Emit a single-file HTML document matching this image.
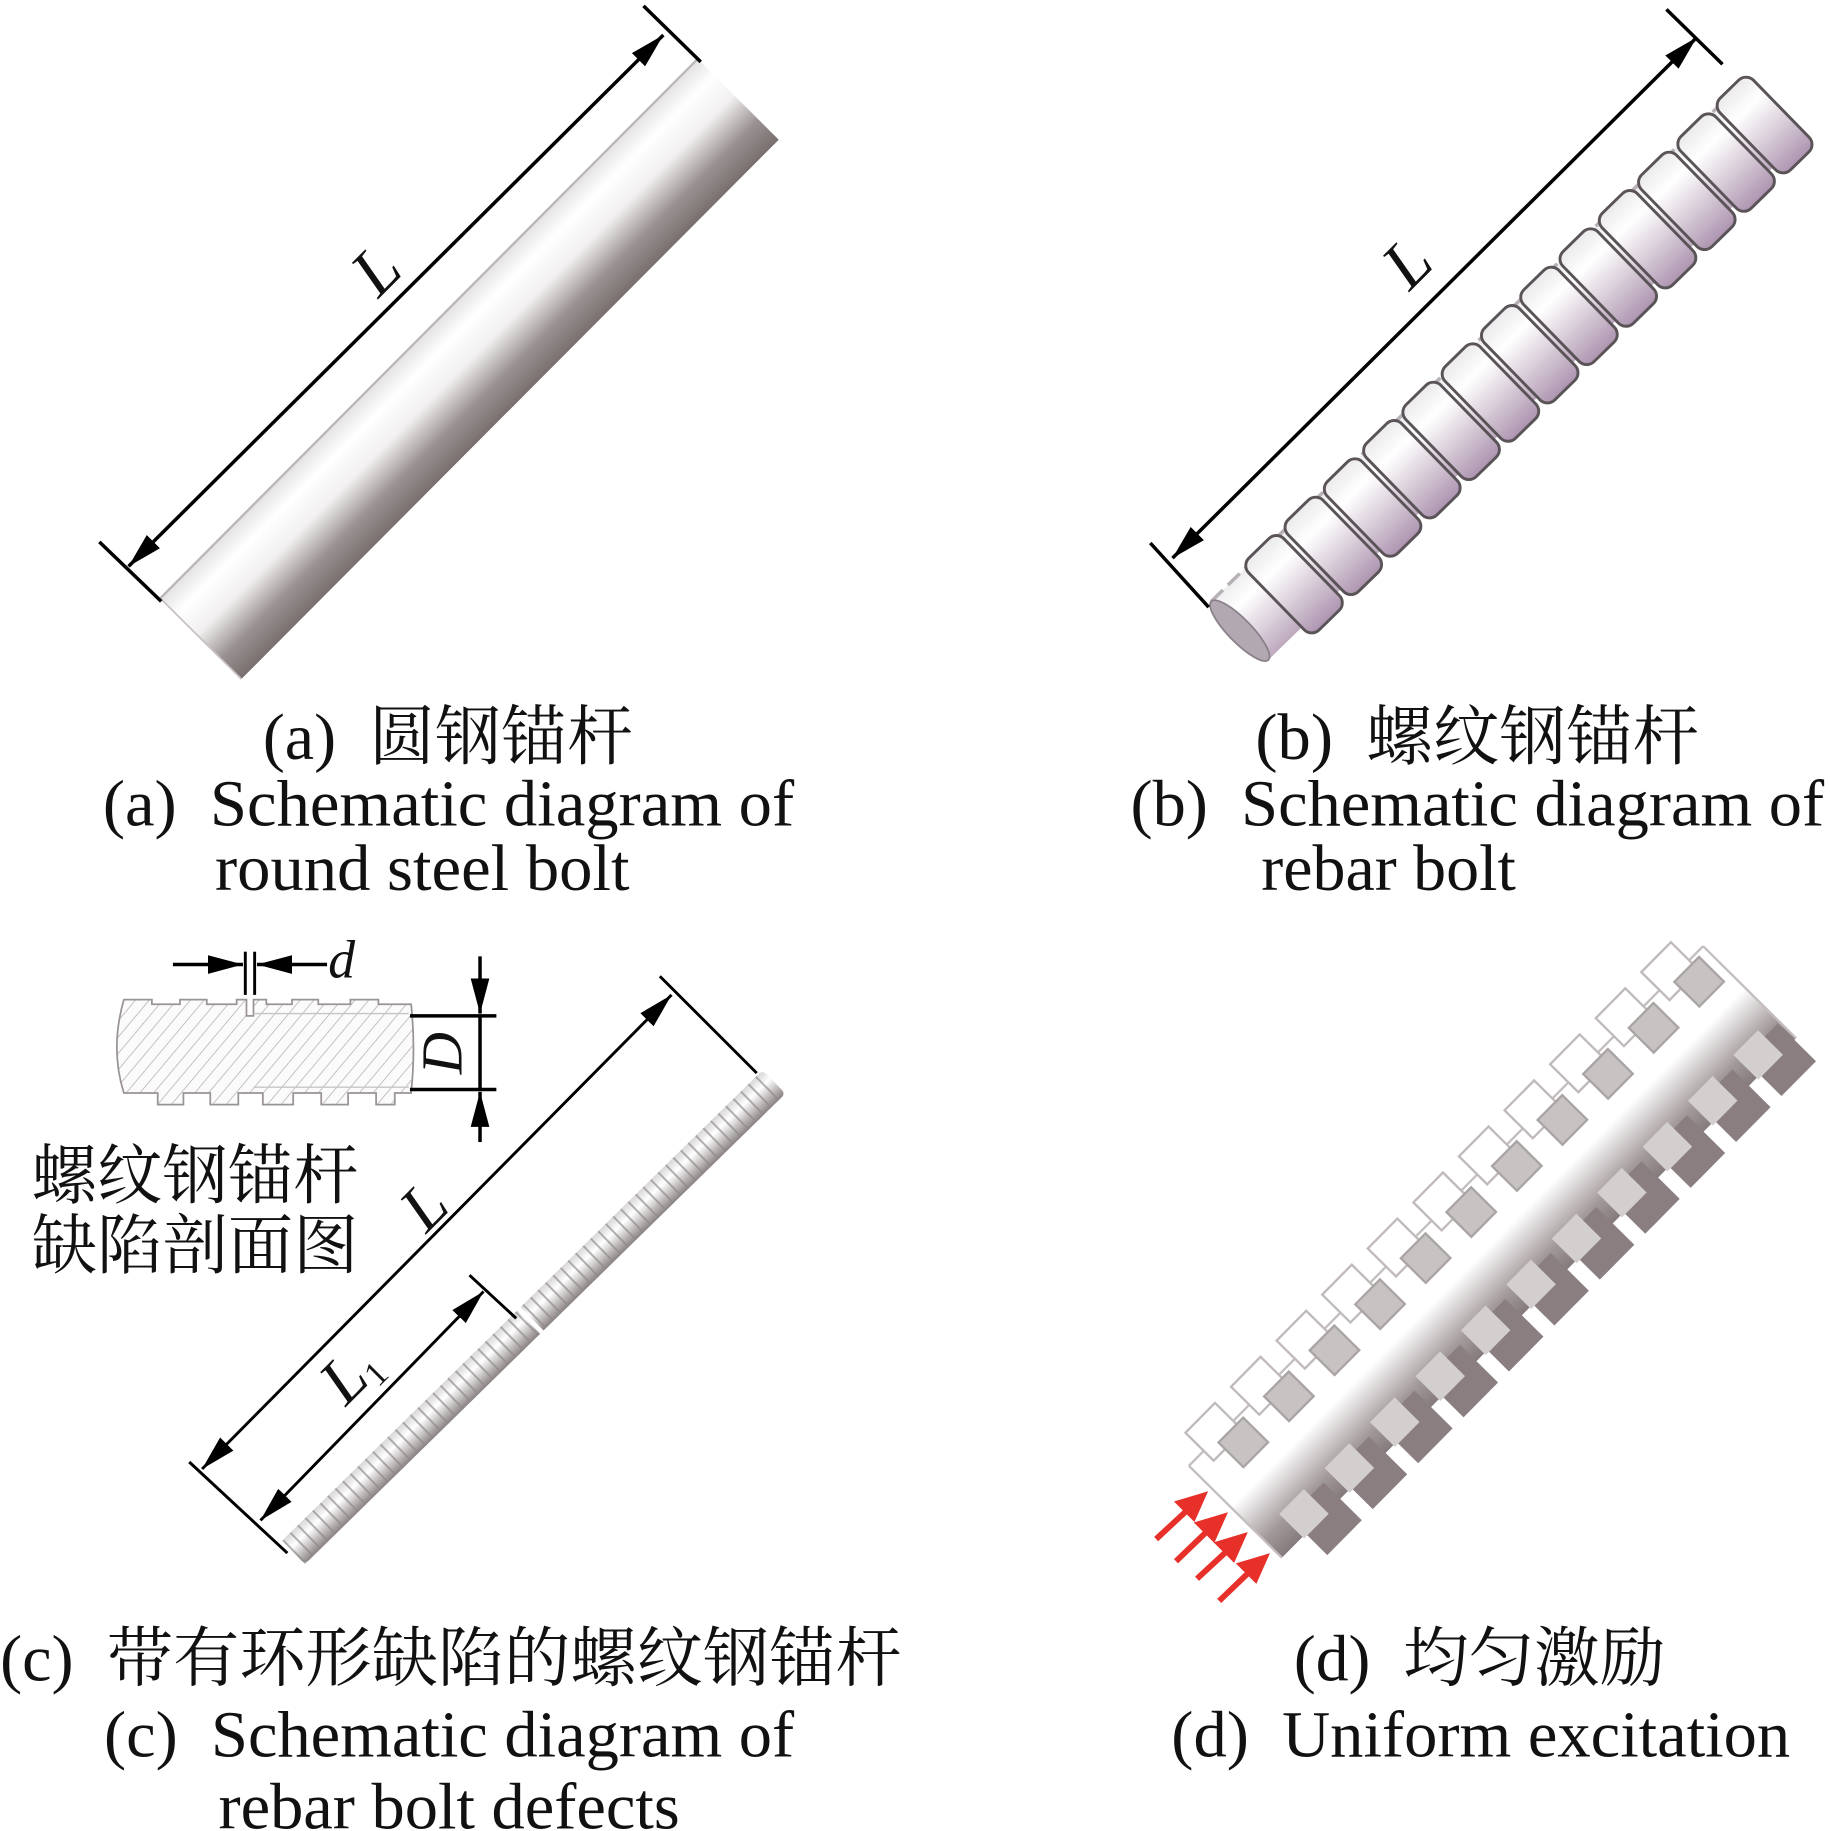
<!DOCTYPE html>
<html><head><meta charset="utf-8"><style>
html,body{margin:0;padding:0;background:#fff;}
svg{display:block;}
.cap{font-family:"Liberation Serif","Noto Serif CJK SC","Noto Sans CJK SC",serif;font-size:56px;fill:#111;white-space:pre;}
.it{font-family:"Liberation Serif",serif;font-style:italic;fill:#111;}
</style></head><body>
<svg width="1830" height="1831" viewBox="0 0 1567 1568" xmlns="http://www.w3.org/2000/svg">
<defs>
<marker id="ah" viewBox="0 0 30 16" refX="30" refY="8" markerWidth="30" markerHeight="16" markerUnits="userSpaceOnUse" orient="auto-start-reverse">
<path d="M0,0 L30,8 L0,16 z" fill="#000"/></marker>
<linearGradient id="ga" x1="0" y1="-49" x2="0" y2="49" gradientUnits="userSpaceOnUse">
<stop offset="0" stop-color="#e4e2e2"/><stop offset="0.2" stop-color="#ffffff"/><stop offset="0.45" stop-color="#f2f0f0"/><stop offset="0.75" stop-color="#9a9292"/><stop offset="1" stop-color="#786e6e"/></linearGradient>
<linearGradient id="gb" x1="0" y1="-40" x2="0" y2="50" gradientUnits="userSpaceOnUse">
<stop offset="0" stop-color="#e8e6e8"/><stop offset="0.3" stop-color="#ffffff"/><stop offset="0.65" stop-color="#d6cad6"/><stop offset="1" stop-color="#ad94b0"/></linearGradient>
<linearGradient id="gc" x1="0" y1="-14" x2="0" y2="14" gradientUnits="userSpaceOnUse">
<stop offset="0" stop-color="#d8d6d6"/><stop offset="0.35" stop-color="#ffffff"/><stop offset="1" stop-color="#8a8282"/></linearGradient>
<linearGradient id="gd" x1="0" y1="-70" x2="0" y2="42" gradientUnits="userSpaceOnUse">
<stop offset="0" stop-color="#ffffff"/><stop offset="0.45" stop-color="#ffffff"/><stop offset="0.8" stop-color="#a39a9b"/><stop offset="1" stop-color="#847a7c"/></linearGradient>
<pattern id="hatch" width="9" height="9" patternUnits="userSpaceOnUse" patternTransform="rotate(40)">
<rect width="9" height="9" fill="#fbfbfb"/><line x1="0" y1="0" x2="0" y2="9" stroke="#b5b0b0" stroke-width="1.3"/></pattern>
<pattern id="stripe" width="9" height="40" patternUnits="userSpaceOnUse" x="0" y="-20">
<rect width="9" height="40" fill="none"/><line x1="1" y1="0" x2="1" y2="40" stroke="#8d8787" stroke-width="1.6" opacity="0.7"/></pattern>
</defs>

<!-- (a) -->
<g transform="translate(402,316) rotate(-45.1)">
<rect x="-326" y="-49" width="652" height="98" fill="url(#ga)"/>
<line x1="-326" y1="-49" x2="326" y2="-49" stroke="#bdb6b6" stroke-width="2"/>
<line x1="-326" y1="-49" x2="-326" y2="49" stroke="#c8c2c2" stroke-width="1.5"/>
</g>
<line x1="85" y1="464" x2="138" y2="515" stroke="#000" stroke-width="3"/>
<line x1="551" y1="5" x2="600" y2="53" stroke="#000" stroke-width="3"/>
<line x1="110" y1="485" x2="568" y2="30" stroke="#000" stroke-width="3" marker-start="url(#ah)" marker-end="url(#ah)"/>
<text class="it" font-size="58" transform="translate(324,256) rotate(-45)">L</text>

<!-- (b) -->
<g transform="translate(1290,313) rotate(-44.3)">
<rect x="-322" y="-32" width="640" height="70" fill="url(#gb)"/>
<line x1="-322" y1="-32" x2="318" y2="-32" stroke="#b8b0b8" stroke-width="3" stroke-dasharray="14,6"/>
<g stroke="#5a5458" stroke-width="2.5">
<rect x="-282" y="-36" width="42" height="86" rx="9" fill="url(#gb)"/>
<rect x="-235" y="-36" width="42" height="86" rx="9" fill="url(#gb)"/>
<rect x="-188" y="-36" width="42" height="86" rx="9" fill="url(#gb)"/>
<rect x="-141" y="-36" width="42" height="86" rx="9" fill="url(#gb)"/>
<rect x="-94" y="-36" width="42" height="86" rx="9" fill="url(#gb)"/>
<rect x="-47" y="-36" width="42" height="86" rx="9" fill="url(#gb)"/>
<rect x="0" y="-36" width="42" height="86" rx="9" fill="url(#gb)"/>
<rect x="47" y="-36" width="42" height="86" rx="9" fill="url(#gb)"/>
<rect x="94" y="-36" width="42" height="86" rx="9" fill="url(#gb)"/>
<rect x="141" y="-36" width="42" height="86" rx="9" fill="url(#gb)"/>
<rect x="188" y="-36" width="42" height="86" rx="9" fill="url(#gb)"/>
<rect x="235" y="-36" width="42" height="86" rx="9" fill="url(#gb)"/>
<rect x="282" y="-36" width="40" height="86" rx="9" fill="url(#gb)"/>
</g>
<ellipse cx="-322" cy="3" rx="10" ry="35" fill="#b2a8b2" stroke="#8a8088" stroke-width="1.5"/>
</g>
<line x1="985" y1="465" x2="1035" y2="520" stroke="#000" stroke-width="3"/>
<line x1="1427" y1="8" x2="1475" y2="55" stroke="#000" stroke-width="3"/>
<line x1="1004" y1="478" x2="1453" y2="32" stroke="#000" stroke-width="3" marker-start="url(#ah)" marker-end="url(#ah)"/>
<text class="it" font-size="58" transform="translate(1207,250) rotate(-45)">L</text>

<!-- (c) inset -->
<path d="M106,856 L130,856 L130,860 L154,860 L154,856 L177,856 L177,860 L202.6,860 L202.6,856 L211,856 L211,870 L217,870 L217,856 L228,856 L228,860 L250,860 L250,856 L272.5,856 L272.5,860 L300,860 L300,856 L324,856 L324,860 L352,860 Q356,898 352,936 L338,936 L338,946 L322,946 L322,936 L298,936 L298,946 L275,946 L275,936 L251,936 L251,946 L225,946 L225,936 L217,936 L217,936 L211,936 L204,936 L204,946 L180,946 L180,936 L157,936 L157,946 L135,946 L135,936 L106,936 Q94,898 106,856 z" fill="url(#hatch)" stroke="#9a9494" stroke-width="1.5"/>
<line x1="217" y1="868" x2="350" y2="868" stroke="#c8c4c4" stroke-width="1.2"/>
<line x1="217" y1="931" x2="350" y2="931" stroke="#c8c4c4" stroke-width="1.2"/>
<line x1="148" y1="826" x2="208" y2="826" stroke="#000" stroke-width="3" marker-end="url(#ah)"/>
<line x1="280" y1="826" x2="220" y2="826" stroke="#000" stroke-width="3" marker-end="url(#ah)"/>
<line x1="210" y1="815" x2="210" y2="852" stroke="#000" stroke-width="2.5"/>
<line x1="218" y1="815" x2="218" y2="852" stroke="#000" stroke-width="2.5"/>
<text class="it" font-size="46" x="281" y="837">d</text>
<line x1="351" y1="870" x2="425" y2="870" stroke="#000" stroke-width="3"/>
<line x1="351" y1="933" x2="425" y2="933" stroke="#000" stroke-width="3"/>
<line x1="411" y1="819" x2="411" y2="868" stroke="#000" stroke-width="3" marker-end="url(#ah)"/>
<line x1="411" y1="978" x2="411" y2="935" stroke="#000" stroke-width="3" marker-end="url(#ah)"/>
<line x1="411" y1="870" x2="411" y2="933" stroke="#000" stroke-width="3"/>
<text class="it" font-size="50" transform="translate(395,920) rotate(-90)">D</text>
<text class="cap" font-size="57" x="27" y="1026" textLength="280" lengthAdjust="spacingAndGlyphs">螺纹钢锚杆</text>
<text class="cap" font-size="57" x="27" y="1086" textLength="280" lengthAdjust="spacingAndGlyphs">缺陷剖面图</text>

<!-- (c) bolt -->
<g transform="translate(457,1128) rotate(-44.4)">
<rect x="-288" y="-14" width="576" height="28" rx="4" fill="url(#gc)"/>
<rect x="-288" y="-14" width="576" height="28" fill="url(#stripe)"/>
<rect x="-6" y="-16" width="4" height="32" fill="#fff"/>
</g>
<line x1="162" y1="1252" x2="246" y2="1330" stroke="#000" stroke-width="2.5"/>
<line x1="565" y1="836" x2="648" y2="919" stroke="#000" stroke-width="2.5"/>
<line x1="173" y1="1258" x2="575" y2="852" stroke="#000" stroke-width="2.5" marker-start="url(#ah)" marker-end="url(#ah)"/>
<text class="it" font-size="56" transform="translate(365,1057) rotate(-45)">L</text>
<line x1="402" y1="1092" x2="442" y2="1129" stroke="#000" stroke-width="2.5"/>
<line x1="223" y1="1302" x2="414" y2="1106" stroke="#000" stroke-width="2.5" marker-start="url(#ah)" marker-end="url(#ah)"/>
<text class="it" font-size="56" transform="translate(296,1205) rotate(-45)">L<tspan font-size="30" font-style="normal" dy="8">1</tspan></text>

<!-- (d) -->
<g transform="translate(1288,1082) rotate(-45.3)">
<rect x="-313" y="-70" width="626" height="112" fill="url(#gd)"/>
<line x1="-313" y1="-70" x2="313" y2="-70" stroke="#c4bebe" stroke-width="2"/>
<line x1="-313" y1="-70" x2="-313" y2="42" stroke="#c4bebe" stroke-width="2"/>
<line x1="313" y1="-70" x2="313" y2="42" stroke="#c4bebe" stroke-width="2"/>
<g stroke="#c0baba" stroke-width="2">
<g transform="translate(-273,0)"><rect x="-22" y="-92" width="36" height="34" fill="#fff"/><rect x="-8" y="-66" width="30" height="30" fill="#c8c3c3" stroke="#aaa4a4"/></g>
<g transform="translate(-217.5,0)"><rect x="-22" y="-92" width="36" height="34" fill="#fff"/><rect x="-8" y="-66" width="30" height="30" fill="#c8c3c3" stroke="#aaa4a4"/></g>
<g transform="translate(-162,0)"><rect x="-22" y="-92" width="36" height="34" fill="#fff"/><rect x="-8" y="-66" width="30" height="30" fill="#c8c3c3" stroke="#aaa4a4"/></g>
<g transform="translate(-106.5,0)"><rect x="-22" y="-92" width="36" height="34" fill="#fff"/><rect x="-8" y="-66" width="30" height="30" fill="#c8c3c3" stroke="#aaa4a4"/></g>
<g transform="translate(-51,0)"><rect x="-22" y="-92" width="36" height="34" fill="#fff"/><rect x="-8" y="-66" width="30" height="30" fill="#c8c3c3" stroke="#aaa4a4"/></g>
<g transform="translate(4.5,0)"><rect x="-22" y="-92" width="36" height="34" fill="#fff"/><rect x="-8" y="-66" width="30" height="30" fill="#c8c3c3" stroke="#aaa4a4"/></g>
<g transform="translate(60,0)"><rect x="-22" y="-92" width="36" height="34" fill="#fff"/><rect x="-8" y="-66" width="30" height="30" fill="#c8c3c3" stroke="#aaa4a4"/></g>
<g transform="translate(115.5,0)"><rect x="-22" y="-92" width="36" height="34" fill="#fff"/><rect x="-8" y="-66" width="30" height="30" fill="#c8c3c3" stroke="#aaa4a4"/></g>
<g transform="translate(171,0)"><rect x="-22" y="-92" width="36" height="34" fill="#fff"/><rect x="-8" y="-66" width="30" height="30" fill="#c8c3c3" stroke="#aaa4a4"/></g>
<g transform="translate(226.5,0)"><rect x="-22" y="-92" width="36" height="34" fill="#fff"/><rect x="-8" y="-66" width="30" height="30" fill="#c8c3c3" stroke="#aaa4a4"/></g>
<g transform="translate(282,0)"><rect x="-22" y="-92" width="36" height="34" fill="#fff"/><rect x="-8" y="-66" width="30" height="30" fill="#c8c3c3" stroke="#aaa4a4"/></g>
</g>
<g>
<g transform="translate(-264,0)"><rect x="-20" y="22" width="42" height="46" fill="#8a7e81"/><rect x="-24" y="14" width="30" height="30" fill="#d4cfcf"/></g>
<g transform="translate(-208.7,0)"><rect x="-20" y="22" width="42" height="46" fill="#8a7e81"/><rect x="-24" y="14" width="30" height="30" fill="#d4cfcf"/></g>
<g transform="translate(-153.4,0)"><rect x="-20" y="22" width="42" height="46" fill="#8a7e81"/><rect x="-24" y="14" width="30" height="30" fill="#d4cfcf"/></g>
<g transform="translate(-98.1,0)"><rect x="-20" y="22" width="42" height="46" fill="#8a7e81"/><rect x="-24" y="14" width="30" height="30" fill="#d4cfcf"/></g>
<g transform="translate(-42.8,0)"><rect x="-20" y="22" width="42" height="46" fill="#8a7e81"/><rect x="-24" y="14" width="30" height="30" fill="#d4cfcf"/></g>
<g transform="translate(12.5,0)"><rect x="-20" y="22" width="42" height="46" fill="#8a7e81"/><rect x="-24" y="14" width="30" height="30" fill="#d4cfcf"/></g>
<g transform="translate(67.8,0)"><rect x="-20" y="22" width="42" height="46" fill="#8a7e81"/><rect x="-24" y="14" width="30" height="30" fill="#d4cfcf"/></g>
<g transform="translate(123.1,0)"><rect x="-20" y="22" width="42" height="46" fill="#8a7e81"/><rect x="-24" y="14" width="30" height="30" fill="#d4cfcf"/></g>
<g transform="translate(178.4,0)"><rect x="-20" y="22" width="42" height="46" fill="#8a7e81"/><rect x="-24" y="14" width="30" height="30" fill="#d4cfcf"/></g>
<g transform="translate(233.7,0)"><rect x="-20" y="22" width="42" height="46" fill="#8a7e81"/><rect x="-24" y="14" width="30" height="30" fill="#d4cfcf"/></g>
<g transform="translate(289,0)"><rect x="-20" y="22" width="42" height="46" fill="#8a7e81"/><rect x="-24" y="14" width="30" height="30" fill="#d4cfcf"/></g>
</g>
</g>
<g stroke="#e8302a" stroke-width="5" fill="#e8302a">
<line x1="990" y1="1318" x2="1018" y2="1292"/><path d="M1030,1281 L1010,1287 L1022,1299 z"/>
<line x1="1007" y1="1337" x2="1035" y2="1310"/><path d="M1047,1299 L1027,1305 L1039,1317 z"/>
<line x1="1025" y1="1352" x2="1052" y2="1327"/><path d="M1064,1316 L1044,1322 L1056,1334 z"/>
<line x1="1044" y1="1371" x2="1071" y2="1345"/><path d="M1083,1334 L1063,1340 L1075,1352 z"/>
</g>

<!-- captions -->
<text class="cap" x="225" y="650" textLength="317" lengthAdjust="spacingAndGlyphs">(a)&#160;&#160;圆钢锚杆</text>
<text class="cap" x="88" y="707" textLength="592" lengthAdjust="spacingAndGlyphs">(a)&#160;&#160;Schematic diagram of</text>
<text class="cap" x="184" y="762" textLength="355" lengthAdjust="spacingAndGlyphs">round steel bolt</text>
<text class="cap" x="1075" y="650" textLength="380" lengthAdjust="spacingAndGlyphs">(b)&#160;&#160;螺纹钢锚杆</text>
<text class="cap" x="968" y="707" textLength="594" lengthAdjust="spacingAndGlyphs">(b)&#160;&#160;Schematic diagram of</text>
<text class="cap" x="1080" y="762" textLength="218" lengthAdjust="spacingAndGlyphs">rebar bolt</text>
<text class="cap" x="0" y="1439" textLength="772" lengthAdjust="spacingAndGlyphs">(c)&#160;&#160;带有环形缺陷的螺纹钢锚杆</text>
<text class="cap" x="89" y="1504" textLength="591" lengthAdjust="spacingAndGlyphs">(c)&#160;&#160;Schematic diagram of</text>
<text class="cap" x="187" y="1566" textLength="395" lengthAdjust="spacingAndGlyphs">rebar bolt defects</text>
<text class="cap" x="1108" y="1439" textLength="318" lengthAdjust="spacingAndGlyphs">(d)&#160;&#160;均匀激励</text>
<text class="cap" x="1003" y="1504" textLength="530" lengthAdjust="spacingAndGlyphs">(d)&#160;&#160;Uniform excitation</text>
</svg>
</body></html>
